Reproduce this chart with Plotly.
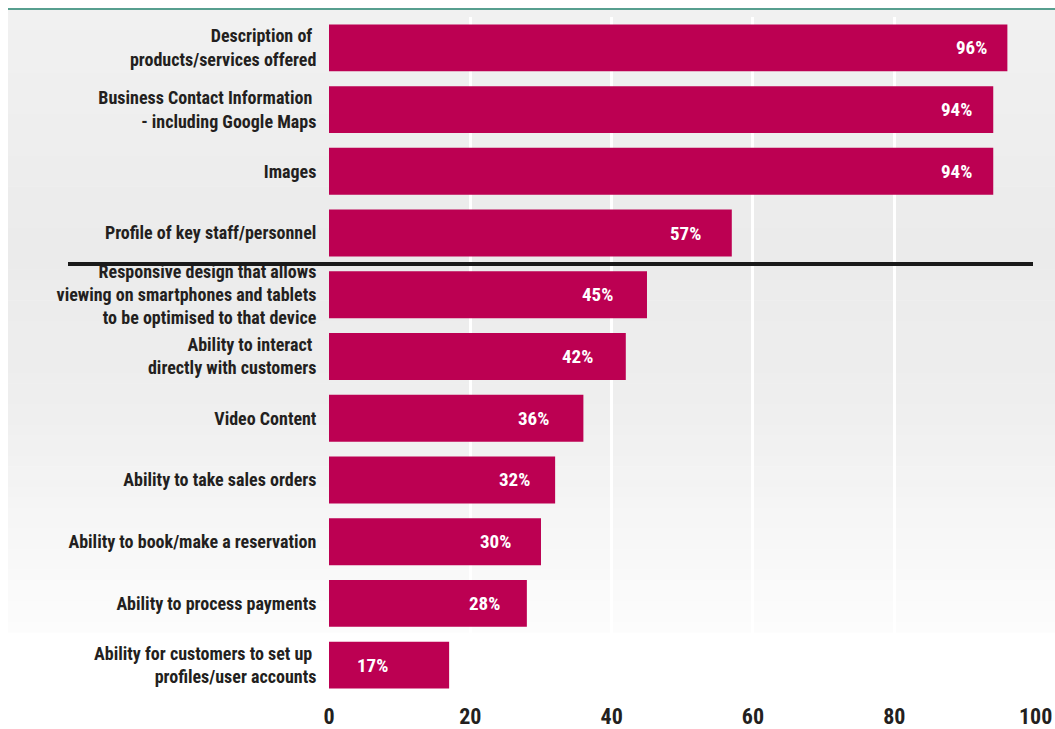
import plotly.graph_objects as go

# Website features offered, share of businesses (%)
features = [
    "Description of\u00a0<br>products/services offered",
    "Business Contact Information\u00a0<br>- including Google Maps",
    "Images",
    "Profile of key staff/personnel",
    "Responsive design that allows<br>viewing on smartphones and tablets<br>to be optimised to that device",
    "Ability to interact\u00a0<br>directly with customers",
    "Video Content",
    "Ability to take sales orders",
    "Ability to book/make a reservation",
    "Ability to process payments",
    "Ability for customers to set up\u00a0<br>profiles/user accounts",
]
shares = [96, 94, 94, 57, 45, 42, 36, 32, 30, 28, 17]
x_ticks = [0, 20, 40, 60, 80, 100]

# pixel inset of each value label from the end of its bar
label_inset = [18, 19, 19, 29, 32, 31, 32, 23, 28, 25, 59]

BAR = "#bc0052"
INK = "#231f20"
FONT = "Roboto Condensed, Liberation Sans Narrow, sans-serif"

W, H = 1055, 729
L, R, T, B = 329, 19, 17, 33
pw, ph = W - L - R, H - T - B


def px_x(p):
    return (p - L) / pw


def px_y(p):
    return (H - B - p) / ph


fig = go.Figure(
    go.Bar(
        x=shares,
        y=features,
        orientation="h",
        marker=dict(color=BAR, line=dict(width=0)),
        hoverinfo="skip",
    )
)

shapes = []
# soft grey panel fading to white towards the bottom
stops = [(10, 241), (250, 235), (400, 238), (520, 246), (632, 252)]
n = 60
y0, y1 = 10, 632
for i in range(n):
    a = y0 + (y1 - y0) * i / n
    b = y0 + (y1 - y0) * (i + 1) / n
    m = (a + b) / 2
    for (sa, va), (sb, vb) in zip(stops[:-1], stops[1:]):
        if sa <= m <= sb:
            v = round(va + (vb - va) * (m - sa) / (sb - sa))
            break
    shapes.append(dict(
        type="rect", xref="paper", yref="paper", layer="below",
        x0=px_x(8), x1=px_x(W + 2), y0=px_y(b + 0.6), y1=px_y(a),
        fillcolor=f"rgb({v},{v},{v})", line=dict(width=0),
    ))
# thin rule across the top
shapes.append(dict(
    type="line", xref="paper", yref="paper", layer="above",
    x0=px_x(8), x1=px_x(W + 2), y0=px_y(9), y1=px_y(9),
    line=dict(color="#1f7f6a", width=1.5),
))
# divider between the basic and advanced features
shapes.append(dict(
    type="line", xref="paper", yref="y", layer="above",
    x0=px_x(68), x1=px_x(1033), y0=3.5, y1=3.5,
    line=dict(color="#1a1a1a", width=4),
))

annotations = [
    dict(
        x=v, y=f, xref="x", yref="y", text=f"<b>{v}%</b>",
        showarrow=False, xanchor="right", xshift=-inset,
        font=dict(family=FONT, size=19, color="white"),
    )
    for f, v, inset in zip(features, shares, label_inset)
]

fig.update_layout(
    width=W, height=H,
    margin=dict(l=L, r=R, t=T, b=B, pad=0),
    paper_bgcolor="white",
    plot_bgcolor="rgba(0,0,0,0)",
    bargap=0.24,
    showlegend=False,
    shapes=shapes,
    annotations=annotations,
    font=dict(family=FONT, color=INK),
    xaxis=dict(
        range=[0, 100.05], tickvals=x_ticks,
        ticktext=[f"<b>{t}</b>" for t in x_ticks],
        tickfont=dict(family=FONT, size=22, color=INK),
        showgrid=True, gridcolor="white", gridwidth=3,
        zeroline=False, showline=False,
        ticks="outside", ticklen=1, tickcolor="rgba(0,0,0,0)",
        automargin=False, fixedrange=True,
    ),
    yaxis=dict(
        categoryorder="array", categoryarray=features,
        autorange="reversed",
        tickvals=features,
        ticktext=[f"<b>{f}</b>" for f in features],
        tickfont=dict(family=FONT, size=18, color=INK),
        showgrid=False, zeroline=False, showline=False,
        ticks="outside", ticklen=8, tickcolor="rgba(0,0,0,0)",
        automargin=False, fixedrange=True,
    ),
)

fig.write_html("out.html", config={"displayModeBar": False})
